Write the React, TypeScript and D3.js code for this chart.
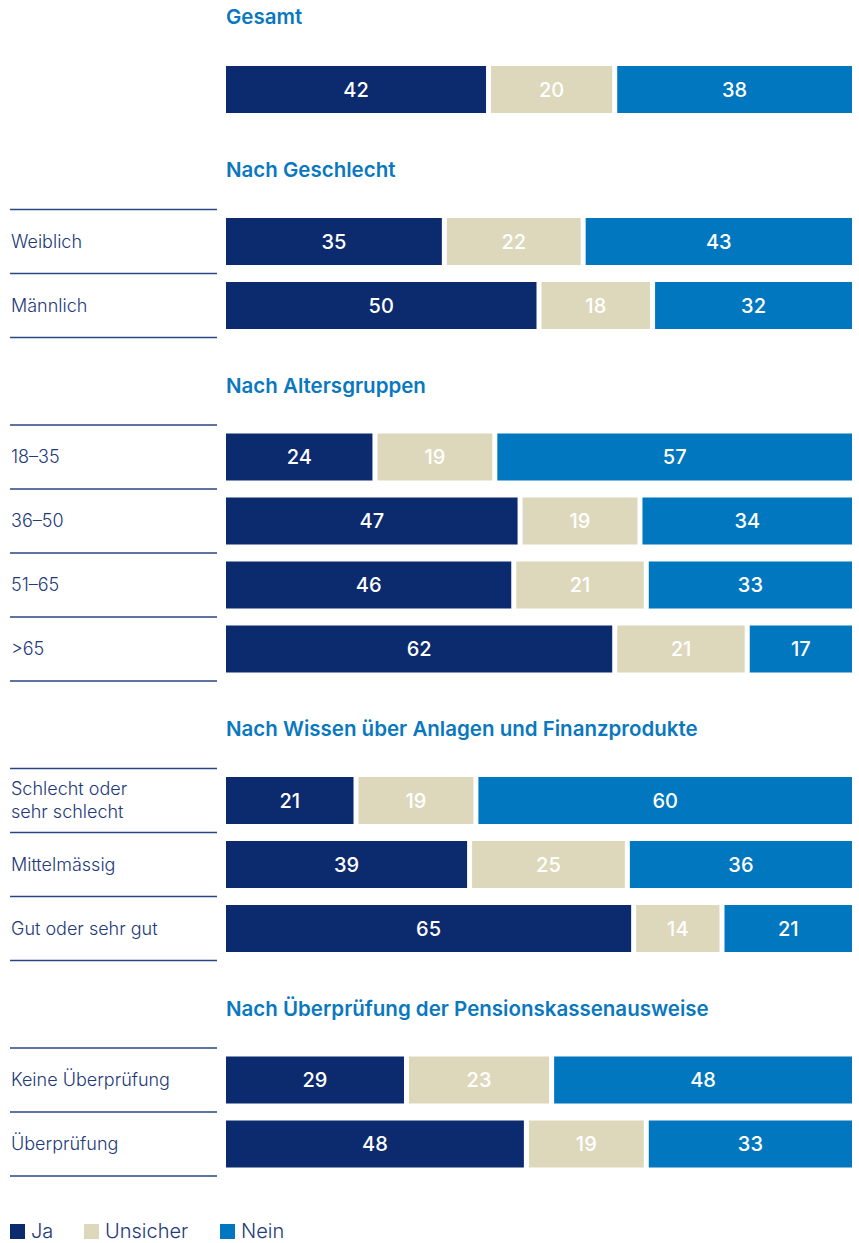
import React, { useEffect, useRef } from 'react';
import * as d3 from 'd3';

const sectionTitles = [
  'Gesamt',
  'Nach Geschlecht',
  'Nach Altersgruppen',
  'Nach Wissen über Anlagen und Finanzprodukte',
  'Nach Überprüfung der Pensionskassenausweise',
];
const rowSection = [0, 1, 1, 2, 2, 2, 2, 3, 3, 3, 4, 4];
const rowLabels = [
  '',
  'Weiblich',
  'Männlich',
  '18–35',
  '36–50',
  '51–65',
  '>65',
  'Schlecht oder\nsehr schlecht',
  'Mittelmässig',
  'Gut oder sehr gut',
  'Keine Überprüfung',
  'Überprüfung',
];
const jaValues = [42, 35, 50, 24, 47, 46, 62, 21, 39, 65, 29, 48];
const unsicherValues = [20, 22, 18, 19, 19, 21, 21, 19, 25, 14, 23, 19];
const neinValues = [38, 43, 32, 57, 34, 33, 17, 60, 36, 21, 48, 33];
const seriesNames = ['Ja', 'Unsicher', 'Nein'];
const seriesColors = ['#0c2a6e', '#ddd8bc', '#0077be'];

const W = 859;
const H = 1243;
const FONT = 'Inter, "Noto Sans", sans-serif';

export default function App() {
  const svgRef = useRef<SVGSVGElement>(null);

  useEffect(() => {
    if (!svgRef.current) return;
    const svg = d3.select(svgRef.current);
    svg.selectAll('*').remove();

    const x = d3.scaleLinear().domain([0, 100]).range([226, 857]);
    const gap = 5;
    const barH = 47;
    const pitch = 64;

    // vertical layout per section
    let titleY = 17;
    const rowTop: number[] = [];
    const lines: number[] = [];
    const titleYs: number[] = [];
    sectionTitles.forEach((_, s) => {
      titleYs.push(titleY);
      const rows = rowSection.map((r, i) => (r === s ? i : -1)).filter((i) => i >= 0);
      const hasLabels = rows.some((i) => rowLabels[i] !== '');
      if (!hasLabels) {
        rows.forEach((i, k) => (rowTop[i] = titleY + 49 + k * pitch));
        titleY = rowTop[rows[rows.length - 1]] + barH + 57;
      } else {
        const lineTop = titleY + 39.5;
        rows.forEach((i, k) => (rowTop[i] = lineTop + 8.5 + k * pitch));
        for (let k = 0; k <= rows.length; k++) lines.push(lineTop + k * pitch);
        titleY = lineTop + rows.length * pitch + 48;
      }
    });

    // titles
    svg
      .selectAll('.title')
      .data(sectionTitles)
      .enter()
      .append('text')
      .attr('x', 226)
      .attr('y', (_, i) => titleYs[i])
      .attr('dy', '0.35em')
      .attr('fill', '#0a78bf')
      .attr('font-family', FONT)
      .attr('font-weight', 600)
      .attr('font-size', 20.5)
      .text((d) => d);

    // separator lines
    svg
      .selectAll('.sep')
      .data(lines)
      .enter()
      .append('line')
      .attr('x1', 10)
      .attr('x2', 217)
      .attr('y1', (d) => d)
      .attr('y2', (d) => d)
      .attr('stroke', '#2a4683')
      .attr('stroke-width', 1.5);

    // row labels
    rowLabels.forEach((label, i) => {
      if (!label) return;
      const parts = label.split('\n');
      const cy = rowTop[i] + barH / 2;
      const t = svg
        .append('text')
        .attr('fill', '#22397a')
        .attr('font-family', FONT)
        .attr('font-weight', 300)
        .attr('font-size', 18);
      parts.forEach((p, k) => {
        t.append('tspan')
          .attr('x', 11)
          .attr('y', cy + (k - (parts.length - 1) / 2) * 23)
          .attr('dy', '0.35em')
          .text(p);
      });
    });

    // stacked bars
    const stack = rowLabels.map((_, i) => [jaValues[i], unsicherValues[i], neinValues[i]]);
    stack.forEach((vals, i) => {
      let acc = 0;
      vals.forEach((v, s) => {
        const x0 = x(acc);
        const w = x(acc + v) - x0 - gap;
        const g = svg.append('g');
        g.append('rect')
          .attr('x', x0)
          .attr('y', rowTop[i])
          .attr('width', w)
          .attr('height', barH)
          .attr('fill', seriesColors[s]);
        g.append('text')
          .attr('x', x0 + w / 2)
          .attr('y', rowTop[i] + barH / 2)
          .attr('dy', '0.35em')
          .attr('text-anchor', 'middle')
          .attr('fill', '#ffffff')
          .attr('font-family', FONT)
          .attr('font-weight', 500)
          .attr('font-size', 20)
          .text(v);
        acc += v;
      });
    });

    // legend
    const legendX = [10, 84, 220];
    const lg = svg
      .selectAll('.legend')
      .data(seriesNames)
      .enter()
      .append('g')
      .attr('transform', (_, i) => `translate(${legendX[i]},1231)`);
    lg.append('rect')
      .attr('x', 0)
      .attr('y', -7)
      .attr('width', 15)
      .attr('height', 15)
      .attr('fill', (_, i) => seriesColors[i]);
    lg.append('text')
      .attr('x', 21)
      .attr('y', 0)
      .attr('dy', '0.35em')
      .attr('fill', '#22397a')
      .attr('font-family', FONT)
      .attr('font-weight', 300)
      .attr('font-size', 20)
      .text((d) => d);
  }, []);

  return (
    <svg
      ref={svgRef}
      width={W}
      height={H}
      style={{ position: 'absolute', left: 0, top: 0, background: '#ffffff' }}
    />
  );
}
